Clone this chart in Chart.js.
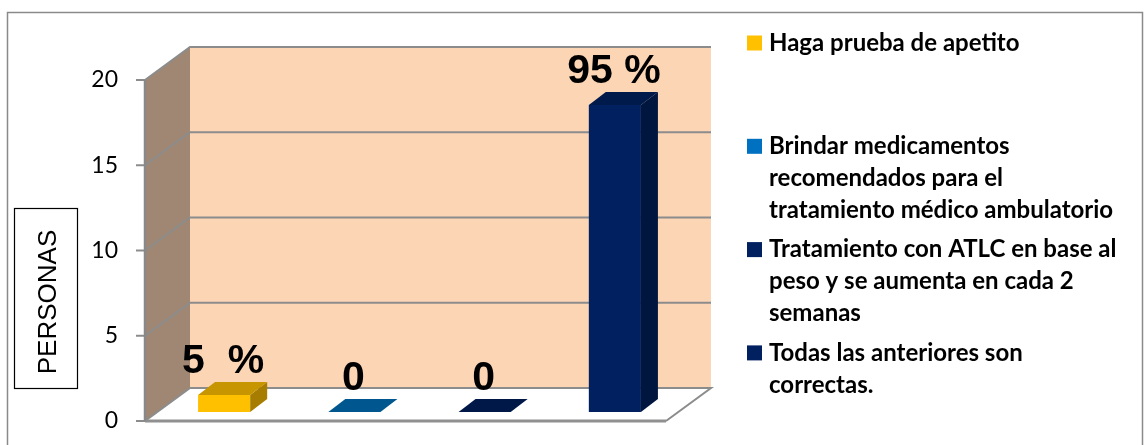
<!DOCTYPE html>
<html>
<head>
<meta charset="utf-8">
<script src="https://cdn.jsdelivr.net/npm/chart.js@4.4.1/dist/chart.umd.min.js"></script>
<style>
  html, body { margin: 0; padding: 0; background: #fff; }
  canvas { display: block; }
</style>
</head>
<body>
<canvas id="chart" width="1144" height="445"></canvas>
<script>
// datos
const categories = [
  'Haga prueba de apetito',
  'Brindar medicamentos recomendados para el tratamiento médico ambulatorio',
  'Tratamiento con ATLC en base al peso y se aumenta en cada 2 semanas',
  'Todas las anteriores son correctas.'
];
const values = [1, 0, 0, 18];
const valueLabels = ['5  %', '0', '0', '95 %'];
const yTicks = [0, 5, 10, 15, 20];
const legendLines = [
  ['Haga prueba de apetito'],
  ['Brindar medicamentos', 'recomendados para el', 'tratamiento médico ambulatorio'],
  ['Tratamiento con ATLC en base al', 'peso y se aumenta en cada 2', 'semanas'],
  ['Todas las anteriores son', 'correctas.']
];

// colores
const frontColors = ['#FFC000', '#0070C0', '#002060', '#002060'];
const topColors = ['#C69500', '#00578F', '#001848', '#001A4C'];
const sideColors = ['#A67D00', '#004A7A', '#00143C', '#00163F'];
const legendColors = ['#FFC000', '#0070C0', '#002060', '#002060'];

// profundidad 3D (px) respecto al plano de las barras
const FRONT = { dx: -14, dy: 9 };
const BACK = { dx: 31, dy: -24 };
const BAR_DEPTH = { dx: 17, dy: -13 };

const frame3d = {
  id: 'frame3d',
  beforeDraw(chart) {
    const ctx = chart.ctx;
    ctx.save();
    ctx.fillStyle = '#fff';
    ctx.fillRect(0, 0, chart.width, chart.height);
    ctx.strokeStyle = '#8a8a8a';
    ctx.lineWidth = 1.5;
    ctx.strokeRect(7.5, 12.5, 1135, 460);
    ctx.restore();
  },
  beforeDatasetsDraw(chart) {
    const ctx = chart.ctx;
    const ys = chart.scales.y;
    const a = chart.chartArea;
    const yTop = ys.getPixelForValue(20);
    const y0 = ys.getPixelForValue(0);
    const fl = a.left + FRONT.dx, fr = a.right + FRONT.dx;
    const bl = a.left + BACK.dx, br = a.right + BACK.dx;
    ctx.save();
    // pared del fondo
    ctx.fillStyle = '#FCD5B5';
    ctx.fillRect(bl, yTop + BACK.dy, br - bl, y0 - yTop);
    // pared lateral
    ctx.fillStyle = '#A08773';
    ctx.beginPath();
    ctx.moveTo(fl, yTop + FRONT.dy);
    ctx.lineTo(bl, yTop + BACK.dy);
    ctx.lineTo(bl, y0 + BACK.dy);
    ctx.lineTo(fl, y0 + FRONT.dy);
    ctx.closePath();
    ctx.fill();
    // piso
    ctx.fillStyle = '#fff';
    ctx.beginPath();
    ctx.moveTo(fl, y0 + FRONT.dy);
    ctx.lineTo(fr, y0 + FRONT.dy);
    ctx.lineTo(br, y0 + BACK.dy);
    ctx.lineTo(bl, y0 + BACK.dy);
    ctx.closePath();
    ctx.fill();
    // lineas de division
    ctx.strokeStyle = '#8c8c8c';
    ctx.lineWidth = 2;
    yTicks.forEach(v => {
      const y = ys.getPixelForValue(v);
      ctx.beginPath();
      ctx.moveTo(fl, y + FRONT.dy);
      ctx.lineTo(bl, y + BACK.dy);
      if (v > 0) ctx.lineTo(br, y + BACK.dy);
      ctx.stroke();
      // marca de eje
      ctx.beginPath();
      ctx.moveTo(fl - 9, y + FRONT.dy);
      ctx.lineTo(fl, y + FRONT.dy);
      ctx.stroke();
    });
    // borde del piso
    ctx.beginPath();
    ctx.moveTo(bl, y0 + BACK.dy);
    ctx.lineTo(br, y0 + BACK.dy);
    ctx.lineTo(fr, y0 + FRONT.dy);
    ctx.stroke();
    ctx.lineWidth = 3;
    ctx.strokeStyle = '#909090';
    ctx.beginPath();
    ctx.moveTo(fl, y0 + FRONT.dy);
    ctx.lineTo(fr, y0 + FRONT.dy);
    ctx.stroke();
    // eje vertical
    ctx.lineWidth = 2.5;
    ctx.strokeStyle = '#888';
    ctx.beginPath();
    ctx.moveTo(fl, yTop + FRONT.dy);
    ctx.lineTo(fl, y0 + FRONT.dy);
    ctx.stroke();
    ctx.restore();
  },
  afterDatasetsDraw(chart) {
    const ctx = chart.ctx;
    const meta = chart.getDatasetMeta(0);
    ctx.save();
    meta.data.forEach((bar, i) => {
      const w = bar.width;
      const l = bar.x - w / 2, r = bar.x + w / 2;
      const t = bar.y, b = bar.base;
      // lado
      ctx.fillStyle = sideColors[i];
      ctx.beginPath();
      ctx.moveTo(r, t);
      ctx.lineTo(r + BAR_DEPTH.dx, t + BAR_DEPTH.dy);
      ctx.lineTo(r + BAR_DEPTH.dx, b + BAR_DEPTH.dy);
      ctx.lineTo(r, b);
      ctx.closePath();
      ctx.fill();
      // tapa
      ctx.fillStyle = topColors[i];
      ctx.beginPath();
      ctx.moveTo(l, t);
      ctx.lineTo(r, t);
      ctx.lineTo(r + BAR_DEPTH.dx, t + BAR_DEPTH.dy);
      ctx.lineTo(l + BAR_DEPTH.dx, t + BAR_DEPTH.dy);
      ctx.closePath();
      ctx.fill();
      // etiqueta
      ctx.fillStyle = '#000';
      ctx.font = 'bold 41px "Liberation Sans", Arial, sans-serif';
      ctx.textAlign = 'center';
      ctx.textBaseline = 'alphabetic';
      ctx.fillText(valueLabels[i], bar.x - 1, t + BAR_DEPTH.dy - 9);
    });
    ctx.restore();
  },
  afterDraw(chart) {
    const ctx = chart.ctx;
    ctx.save();
    // titulo del eje
    ctx.strokeStyle = '#000';
    ctx.lineWidth = 1.2;
    ctx.strokeRect(14.5, 208.5, 63, 180);
    ctx.translate(49, 302);
    ctx.rotate(-Math.PI / 2);
    ctx.fillStyle = '#000';
    ctx.font = '26px "Liberation Sans", Arial, sans-serif';
    ctx.textAlign = 'center';
    ctx.textBaseline = 'middle';
    ctx.fillText('PERSONAS', 0, 0);
    ctx.restore();

    // leyenda
    ctx.save();
    ctx.font = 'bold 24px Lato, "Open Sans", sans-serif';
    ctx.textBaseline = 'middle';
    ctx.textAlign = 'left';
    legendLines.forEach((lines, i) => {
      const yc = 43 + i * 103.3;
      ctx.fillStyle = legendColors[i];
      ctx.fillRect(747, yc - 7.5, 15, 15);
      ctx.fillStyle = '#000';
      lines.forEach((s, j) => ctx.fillText(s, 769, yc + j * 32));
    });
    ctx.restore();
  }
};

new Chart(document.getElementById('chart'), {
  type: 'bar',
  data: {
    labels: categories,
    datasets: [{
      data: values,
      backgroundColor: frontColors,
      borderWidth: 0,
      categoryPercentage: 1,
      barPercentage: 0.4
    }]
  },
  options: {
    responsive: false,
    animation: false,
    devicePixelRatio: 1,
    layout: { padding: { left: 0, top: 71, right: 464, bottom: 33 } },
    plugins: { legend: { display: false }, tooltip: { enabled: false } },
    scales: {
      x: { display: false },
      y: {
        min: 0,
        max: 20,
        afterFit: s => { s.width = 159; },
        afterBuildTicks: s => { s.ticks = yTicks.map(v => ({ value: v })); },
        grid: { display: false, drawTicks: true, tickLength: 33 },
        border: { display: false },
        ticks: {
          padding: 8,
          labelOffset: 9,
          color: '#000',
          font: { family: 'Lato, "Open Sans", sans-serif', size: 23 }
        }
      }
    }
  },
  plugins: [frame3d]
});
</script>
</body>
</html>
